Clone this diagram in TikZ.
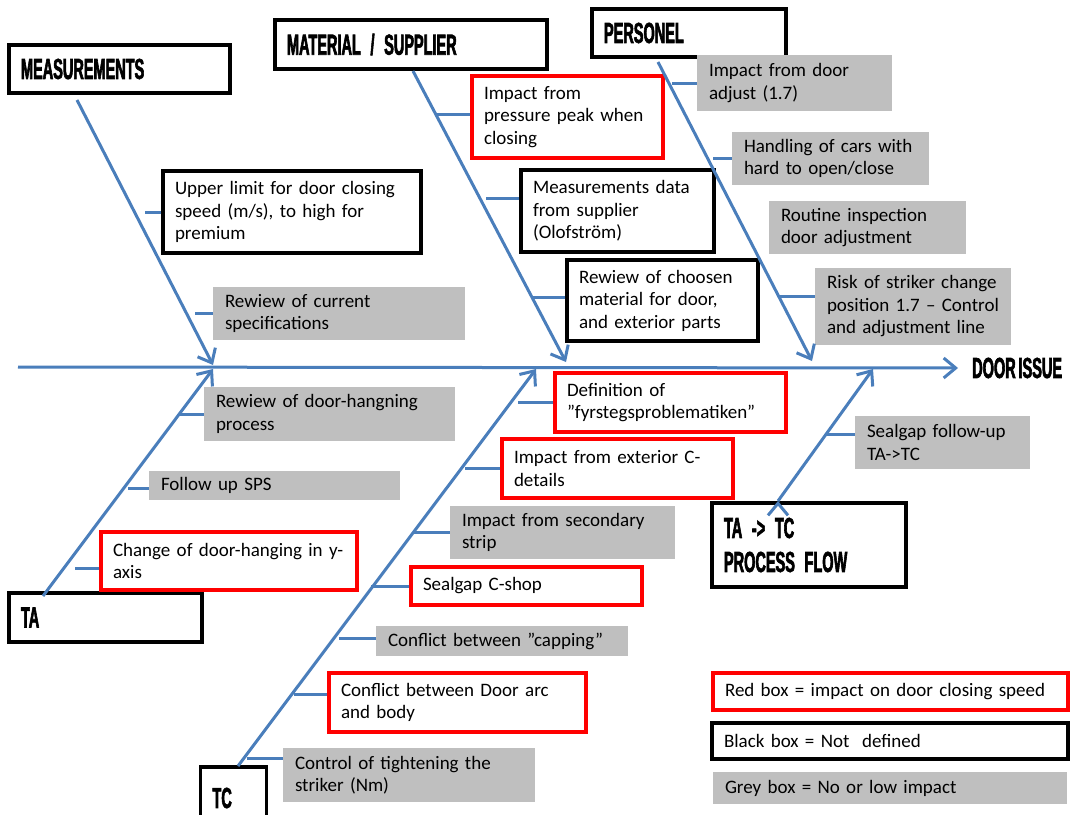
\documentclass[tikz,border=0pt]{standalone}
\usepackage{fontspec}
\setmainfont{Carlito}
\newfontfamily\headfont[FakeStretch=0.5,FakeBold=2,WordSpace=0.7]{Liberation Sans}
\usetikzlibrary{arrows.meta}
\definecolor{bonecol}{RGB}{74,126,187}
\definecolor{boxgrey}{RGB}{191,191,191}
\definecolor{boxred}{RGB}{255,0,0}

\begin{document}
\begin{tikzpicture}[x=1pt,y=-1pt,>={Straight Barb[length=12pt,width=20pt]},
                bone/.style={draw=bonecol,line width=3pt},
                every node/.style={inner ysep=0pt,inner xsep=12pt,align=left},
                wh/.code 2 args={\pgfmathsetmacro\boxtw{#1-24}\tikzset{minimum width=#1pt,minimum height=#2pt,text width=\boxtw pt}},
                txt/.style={font=\fontsize{19}{22.5}\selectfont},
                redbox/.style={txt,draw=boxred,line width=3.5pt},
                blackbox/.style={txt,draw=black,line width=3.5pt},
                greybox/.style={txt,fill=boxgrey},
                head/.style={font=\headfont\bfseries\fontsize{29}{34}\selectfont},
                headbox/.style={head,draw=black,line width=3.5pt}]
                \useasboundingbox (0, 0) rectangle (1073, 814);
                \node[headbox,wh={221}{48}](meas)at(119.5, 69){MEASUREMENTS};
                \node[headbox,wh={272}{49}](mat)at(411, 44.5){MATERIAL / SUPPLIER};
                \node[headbox,wh={194}{48}](pers)at(689, 33){PERSONEL};
                \node[headbox,wh={193}{49}](ta)at(105.5, 617.5){TA};
                \node[headbox,wh={66}{62}](tc)at(233.5, 798){TC};
                \node[headbox,wh={194}{84}](tatc)at(809, 545){TA -> TC\\PROCESS FLOW};
                \node[head,anchor=west,inner xsep=14pt](issue)at(958, 368){DOOR ISSUE};
                \node[blackbox,wh={258}{82}](upper)at(292, 212){Upper limit for door closing\\speed (m/s), to high for\\premium};
                \node[greybox,wh={252}{53}](curspec)at(339, 313.5){Rewiew of current\\specifications};
                \node[redbox,wh={191}{82}](peak)at(567.5, 117){Impact from\\pressure peak when\\closing};
                \node[blackbox,wh={193}{82}](suppl)at(617.5, 211){Measurements data\\from supplier\\(Olofström)};
                \node[blackbox,wh={191}{81}](choosen)at(662.5, 300.5){Rewiew of choosen\\material for door,\\and exterior parts};
                \node[greybox,wh={195}{56}](adjust)at(794.5, 83){Impact from door\\adjust (1.7)};
                \node[greybox,wh={197}{53}](handling)at(830.5, 158.5){Handling of cars with\\hard to open/close};
                \node[greybox,wh={197}{53}](routine)at(867.5, 227.5){Routine inspection\\door adjustment};
                \node[greybox,wh={196}{77}](risk)at(913, 306.5){Risk of striker change\\position 1.7 – Control\\and adjustment line};
                \node[greybox,wh={251}{54}](hangproc)at(329.5, 414){Rewiew of door-hangning\\process};
                \node[greybox,wh={251}{29}](sps)at(274.5, 485.5){Follow up SPS};
                \node[redbox,wh={256}{58}](yaxis)at(229, 561){Change of door-hanging in y-\\axis};
                \node[redbox,wh={231}{59}](fyrsteg)at(670.5, 402.5){Definition of\\”fyrstegsproblematiken”};
                \node[redbox,wh={231}{59}](exterior)at(617.5, 468.5){Impact from exterior C-\\details};
                \node[greybox,wh={225}{53}](strip)at(562.5, 532.5){Impact from secondary\\strip};
                \node[redbox,wh={231}{38}](cshop)at(526.5, 586){Sealgap C-shop};
                \node[greybox,wh={252}{30}](capping)at(502, 641){Conflict between ”capping”};
                \node[redbox,wh={257}{59}](doorarc)at(457.5, 702.5){Conflict between Door arc\\and body};
                \node[greybox,wh={252}{54}](striker)at(409, 775){Control of tightening the\\striker (Nm)};
                \node[greybox,wh={175}{53}](sealfu)at(942.5, 442.5){Sealgap follow-up\\TA->TC};
                \node[redbox,wh={355}{37}](keyred)at(890.5, 691.5){Red box = impact on door closing speed};
                \node[blackbox,wh={356}{36}](keyblack)at(890, 741){Black box = Not\ \ defined};
                \node[greybox,wh={354}{32}](keygrey)at(890, 788){Grey box = No or low impact};
                \coordinate(tail)at(18, 367);
                \coordinate(jmeas)at(213, 365);
                \coordinate(jmat)at(566, 362);
                \coordinate(jpers)at(812, 361);
                \coordinate(jta)at(213, 369);
                \coordinate(jtc)at(536, 369);
                \coordinate(jtatc)at(873, 369);
                \coordinate(measfoot)at(77, 100);
                \coordinate(matfoot)at(413, 71);
                \coordinate(persfoot)at(658, 62);
                \coordinate(tafoot)at(43, 596);
                \coordinate(tcfoot)at(238, 766);
                \coordinate(tatcfoot)at(778, 501);
                \path[->,bone](tail) edge (issue.west)
                (measfoot) edge (jmeas)
                (matfoot) edge (jmat)
                (persfoot) edge (jpers)
                (tafoot) edge (jta)
                (tcfoot) edge (jtc)
                (tatcfoot) edge (jtatc);
                \draw[bone](upper.west) -- ++(-16, 0);
                \draw[bone](curspec.west) -- ++(-18, 0);
                \draw[bone]([yshift=3pt]peak.west) -- ++(-34, 0);
                \draw[bone]([yshift=13pt]suppl.west) -- ++(-33, 0);
                \draw[bone]([yshift=3pt]choosen.west) -- ++(-32, 0);
                \draw[bone](adjust.west) -- ++(-25, 0);
                \draw[bone](handling.west) -- ++(-19, 0);
                \draw[bone]([yshift=10pt]risk.west) -- ++(-36, 0);
                \draw[bone](hangproc.west) -- ++(-24, 0);
                \draw[bone]([yshift=-3pt]sps.west) -- ++(-21, 0);
                \draw[bone]([yshift=-7pt]yaxis.west) -- ++(-24, 0);
                \draw[bone](fyrsteg.west) -- ++(-35, 0);
                \draw[bone](exterior.west) -- ++(-35, 0);
                \draw[bone](strip.west) -- ++(-36, 0);
                \draw[bone](cshop.west) -- ++(-38, 0);
                \draw[bone]([yshift=3pt]capping.west) -- ++(-37, 0);
                \draw[bone]([yshift=8pt]doorarc.west) -- ++(-33, 0);
                \draw[bone]([yshift=17pt]striker.west) -- ++(-36, 0);
                \draw[bone]([yshift=8pt]sealfu.west) -- ++(-28, 0);
            \end{tikzpicture}
\end{document}
